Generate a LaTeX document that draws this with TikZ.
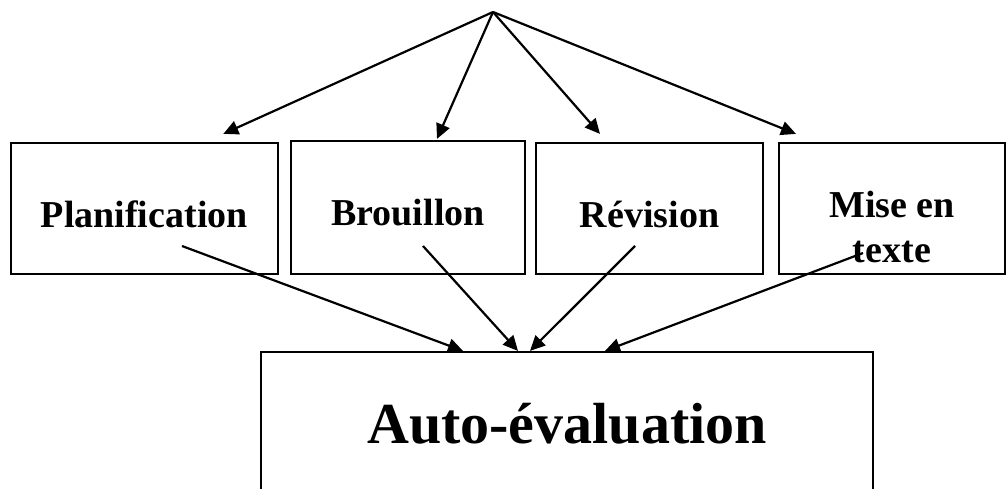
\documentclass[tikz,border=0pt]{standalone}
\usepackage{fontspec}
\setmainfont{Liberation Serif}
\usetikzlibrary{arrows.meta,positioning,calc}
\tikzset{
  stage/.style={draw,line width=1.1pt,minimum height=65.5pt,inner sep=0pt,align=center,font=\fontsize{19}{22.5}\selectfont\bfseries,text height=18.5pt,text depth=0pt},
  goal/.style={draw,line width=1.1pt,minimum width=306pt,minimum height=71pt,inner sep=0pt,font=\fontsize{29}{34}\selectfont\bfseries,text height=20pt,text depth=0pt},
  arr/.style={-{Triangle[length=7.5pt,width=7pt]},line width=1.1pt},
}
\begin{document}
\begin{tikzpicture}[x=0.5pt,y=-0.5pt]
  \useasboundingbox (0,0) rectangle (1006,488);
  \clip (0,0) rectangle (1006,488);
  \coordinate (top) at (493,12);
  \node[stage,minimum width=133.5pt] (plan) at (144.3,208.5) {Planification};
  \node[stage,minimum width=117pt,minimum height=66.5pt,text height=17.5pt] (brou) at (408,207.5) {Brouillon};
  \node[stage,minimum width=113.5pt] (revi) at (649.5,208.5) {Révision};
  \node[stage,minimum width=113pt,text height=53.5pt] (mise) at (892,208.5) {Mise en\\texte};
  \node[goal] (autoeval) at (567,423) {Auto-évaluation};
  % from the top point to the four stages
  \draw[arr] (top) -- ([xshift=39.5pt,yshift=4pt]plan.north);
  \draw[arr] (top) -- ([xshift=14.5pt,yshift=0.5pt]brou.north);
  \draw[arr] (top) -- ([xshift=-24.75pt,yshift=4pt]revi.north);
  \draw[arr] (top) -- ([xshift=-48pt,yshift=4pt]mise.north);
  % stages to the self-assessment
  \draw[arr] ([xshift=18.85pt,yshift=-18.75pt]plan.center) -- ([xshift=-52pt]autoeval.north);
  \draw[arr] ([xshift=7.5pt,yshift=-19.25pt]brou.center) -- ([xshift=-24.5pt]autoeval.north);
  \draw[arr] ([xshift=-7.25pt,yshift=-18.75pt]revi.center) -- ([xshift=-18.5pt]autoeval.north);
  \draw[arr] ([xshift=-14.5pt,yshift=-22.25pt]mise.center) -- ([xshift=19pt]autoeval.north);
\end{tikzpicture}
\end{document}
